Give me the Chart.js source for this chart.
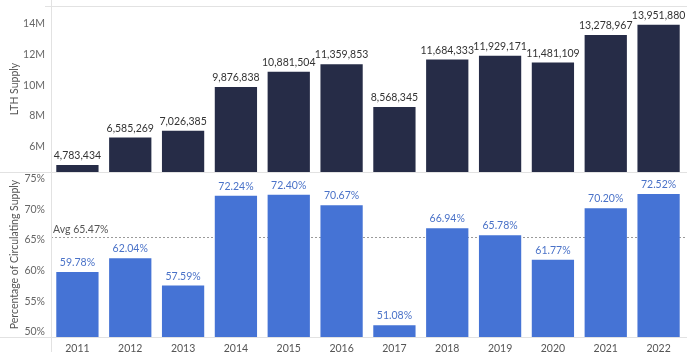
<!DOCTYPE html>
<html><head><meta charset="utf-8">
<script src="https://cdn.jsdelivr.net/npm/chart.js@4/dist/chart.umd.min.js"></script>
<style>
html,body{margin:0;padding:0;background:#fff;}
#wrap{position:relative;width:687px;height:358px;overflow:hidden;}
#c1{position:absolute;left:0;top:0;}
#c2{position:absolute;left:0;top:172px;}
.sep{position:absolute;background:#e2e2e2;}
</style></head>
<body>
<div id="wrap">
<canvas id="c1" width="687" height="172"></canvas>
<canvas id="c2" width="687" height="186"></canvas>
<div class="sep" style="left:0;top:172px;width:687px;height:1px;"></div>
<div class="sep" style="left:45px;top:6px;width:642px;height:1px;"></div>
<div class="sep" style="left:0;top:337px;width:687px;height:1px;"></div>
<div class="sep" style="left:51px;top:0;width:1px;height:352px;"></div>
</div>
<script>
const years = ['2011','2012','2013','2014','2015','2016','2017','2018','2019','2020','2021','2022'];
const lthSupply = [4783434, 6585269, 7026385, 9876838, 10881504, 11359853, 8568345, 11684333, 11929171, 11481109, 13278967, 13951880];
const pctCirculating = [59.78, 62.04, 57.59, 72.24, 72.40, 70.67, 51.08, 66.94, 65.78, 61.77, 70.20, 72.52];
const avgPct = 65.47;
const lthTicks = [6e6, 8e6, 10e6, 12e6, 14e6];
const pctTicks = [50, 55, 60, 65, 70, 75];

const FONT = 'Lato, "Open Sans", sans-serif';
Chart.defaults.font.family = FONT;
Chart.defaults.animation = false;

function barLabels(fmt, color) {
  return {
    id: 'barLabels',
    afterDatasetsDraw(chart) {
      const ctx = chart.ctx;
      const meta = chart.getDatasetMeta(0);
      ctx.save();
      ctx.font = '10.5px ' + FONT;
      ctx.fillStyle = color;
      ctx.textAlign = 'center';
      ctx.textBaseline = 'bottom';
      meta.data.forEach((bar, i) => {
        ctx.fillText(fmt(chart.data.datasets[0].data[i]), bar.x, bar.y - 4);
      });
      ctx.restore();
    }
  };
}

const avgLine = {
  id: 'avgLine',
  beforeDatasetsDraw(chart) {
    const ctx = chart.ctx;
    const y = chart.scales.y.getPixelForValue(avgPct);
    const a = chart.chartArea;
    ctx.save();
    ctx.strokeStyle = '#9a9a9a';
    ctx.lineWidth = 1;
    ctx.setLineDash([2, 2]);
    ctx.beginPath();
    ctx.moveTo(a.left, Math.round(y) + 0.5);
    ctx.lineTo(a.right, Math.round(y) + 0.5);
    ctx.stroke();
    ctx.setLineDash([]);
    ctx.font = '10.5px ' + FONT;
    ctx.fillStyle = '#555';
    ctx.textAlign = 'left';
    ctx.textBaseline = 'bottom';
    ctx.fillText('Avg ' + avgPct.toFixed(2) + '%', a.left + 2, y - 2);
    ctx.restore();
  }
};

function fitY(s) { s.width = 51; s.paddingTop = 0; s.paddingBottom = 0; }

new Chart(document.getElementById('c1'), {
  type: 'bar',
  data: { labels: years, datasets: [{ data: lthSupply, backgroundColor: '#262c47', categoryPercentage: 0.8, barPercentage: 1 }] },
  options: {
    responsive: false,
    layout: { padding: { top: 6, right: 2, bottom: 0, left: 0 } },
    plugins: { legend: { display: false }, tooltip: { enabled: false } },
    scales: {
      x: { display: false },
      y: {
        min: 4.33e6, max: 15.17e6,
        afterFit: fitY,
        afterBuildTicks(s) { s.ticks = lthTicks.map(v => ({ value: v })); },
        grid: { display: false, drawTicks: false },
        border: { display: false },
        title: { display: true, text: 'LTH Supply', color: '#555', font: { size: 10.5 }, padding: { top: 8, bottom: 0 } },
        ticks: { color: '#666', font: { size: 10.5 }, padding: 6, callback: v => (v / 1e6) + 'M' }
      }
    }
  },
  plugins: [barLabels(v => v.toLocaleString('en-US'), '#333')]
});

new Chart(document.getElementById('c2'), {
  type: 'bar',
  data: { labels: years, datasets: [{ data: pctCirculating, backgroundColor: '#4573d5', categoryPercentage: 0.8, barPercentage: 1 }] },
  options: {
    responsive: false,
    layout: { padding: { top: 0, right: 2, bottom: 0, left: 0 } },
    plugins: { legend: { display: false }, tooltip: { enabled: false } },
    scales: {
      x: {
        afterFit(s) { s.height = 21; s.paddingLeft = 0; s.paddingRight = 0; },
        grid: { display: false, drawTicks: false },
        border: { display: false },
        ticks: { color: '#555', font: { size: 10.5 }, padding: 5, maxRotation: 0 }
      },
      y: {
        min: 49.18, max: 76.1,
        afterFit: fitY,
        afterBuildTicks(s) { s.ticks = pctTicks.map(v => ({ value: v })); },
        grid: { display: false, drawTicks: false },
        border: { display: false },
        title: { display: true, text: 'Percentage of Circulating Supply', color: '#555', font: { size: 10.5 }, padding: { top: 8, bottom: 0 } },
        ticks: { color: '#666', font: { size: 10.5 }, padding: 6, callback: v => v + '%' }
      }
    }
  },
  plugins: [avgLine, barLabels(v => v.toFixed(2) + '%', '#4a72c8')]
});
</script>
</body></html>
